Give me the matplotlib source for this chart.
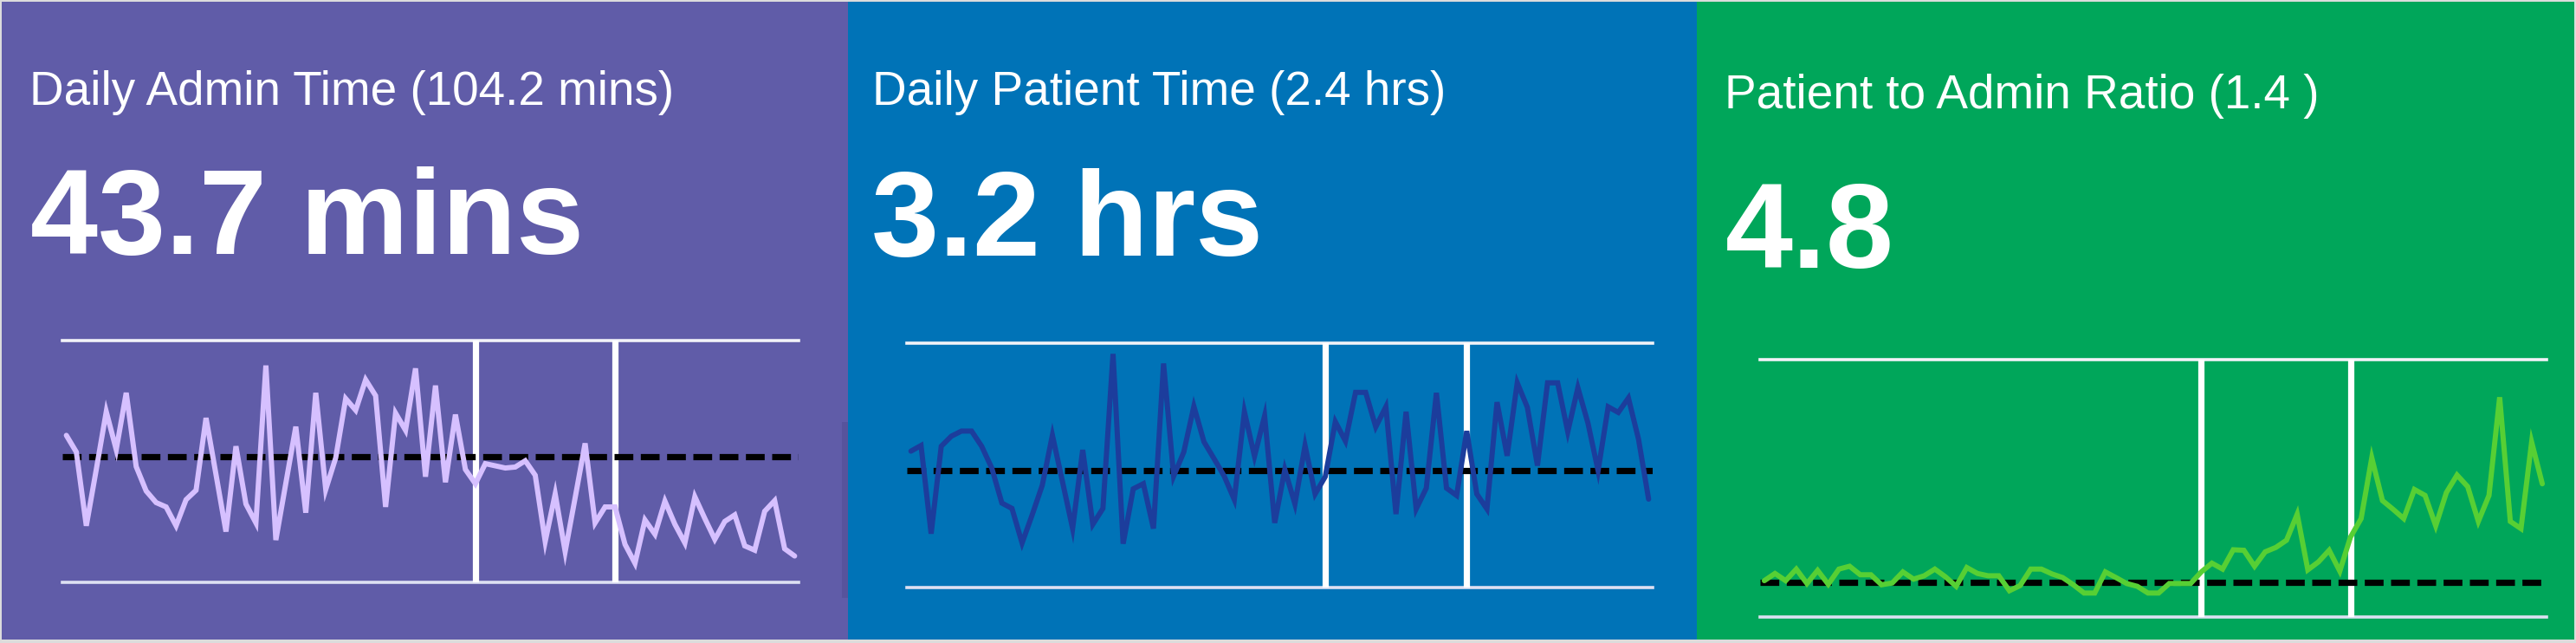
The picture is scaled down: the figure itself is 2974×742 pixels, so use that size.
"""Three KPI tiles with sparklines: admin time, patient time, patient/admin ratio."""

import matplotlib
matplotlib.use("Agg")
import matplotlib.pyplot as plt
from matplotlib.patches import Rectangle

# --- data ------------------------------------------------------------------
titles = [
    "Daily Admin Time (104.2 mins)",
    "Daily Patient Time (2.4 hrs)",
    "Patient to Admin Ratio (1.4 )",
]
headlines = ["43.7 mins", "3.2 hrs", "4.8"]

# daily values, scaled 0-100 inside each sparkline box
admin_series = [
    60.9, 54.0, 23.5, 46.8, 70.7, 55.0, 78.5, 48.0, 37.9, 33.1,
    31.3, 23.5, 34.3, 38.2, 68.1, 44.7, 21.1, 56.4, 32.5, 24.7,
    89.8, 17.6, 41.1, 64.5, 28.9, 78.5, 38.5, 51.6, 76.1, 71.3,
    83.9, 77.3, 31.3, 70.1, 63.0, 88.6, 43.8, 81.5, 41.5, 69.5,
    46.8, 40.9, 49.2, 48.3, 47.4, 47.8, 50.4, 44.4, 17.0, 36.7,
    12.8, 35.1, 57.6, 24.7, 31.3, 31.3, 15.8, 8.0, 25.9, 20.0,
    33.7, 24.1, 16.4, 35.5, 26.5, 17.9, 25.3, 28.0, 15.2, 13.4,
    29.5, 33.9, 14.0, 11.0,
]
patient_series = [
    55.8, 58.1, 22.1, 57.8, 61.9, 64.0, 64.0, 57.8, 48.9, 34.6,
    32.4, 18.3, 29.8, 41.9, 62.3, 43.3, 24.2, 56.3, 25.9, 32.4,
    95.5, 18.0, 40.4, 42.5, 24.2, 91.6, 45.6, 55.4, 74.1, 59.6,
    52.7, 45.6, 36.0, 71.9, 53.7, 70.2, 26.5, 48.3, 34.2, 58.1,
    38.3, 45.4, 67.8, 59.9, 79.8, 79.8, 65.7, 73.9, 30.1, 71.9,
    32.2, 40.7, 79.6, 40.7, 37.7, 64.0, 38.3, 32.2, 75.8, 53.9,
    83.7, 73.7, 49.9, 83.7, 83.7, 63.7, 81.7, 67.2, 47.8, 73.9,
    71.6, 77.5, 60.7, 36.2,
]
ratio_series = [
    14.2, 17.0, 14.2, 18.7, 13.1, 18.2, 12.8, 18.7, 19.8, 16.5,
    16.5, 12.6, 13.3, 17.6, 14.8, 16.1, 18.7, 15.7, 12.0, 19.3,
    17.0, 16.1, 16.1, 10.3, 12.3, 18.7, 18.7, 16.8, 15.4, 12.6,
    9.4, 9.4, 17.6, 15.4, 13.1, 12.0, 9.4, 9.4, 13.1, 13.1,
    13.1, 17.6, 21.0, 18.7, 26.2, 26.0, 19.8, 25.4, 27.1, 29.9,
    40.0, 18.4, 21.5, 26.0, 17.9, 31.1, 38.3, 61.9, 45.3, 41.9,
    38.3, 49.6, 47.3, 35.5, 48.4, 55.2, 50.7, 37.2, 47.3, 85.4,
    37.2, 34.4, 68.0, 51.8,
]
series = [admin_series, patient_series, ratio_series]
reference_levels = [51.9, 48.0, 13.7]   # dashed baseline per tile
period_breaks = [41, 55]                 # day index of the white dividers

# --- layout (pixels of the 2974 x 742 canvas) ------------------------------
W, H = 2974, 742
DPI = 100

tiles = [
    dict(x0=2, x1=979, bg="#605ca8", line="#d6c0ff",
         tx=34, title_y=121, big_x=35, big_y=293,
         box=(72, 393.3, 922, 672.3)),
    dict(x0=979, x1=1959, bg="#0073b7", line="#1c3d9c",
         tx=1007, title_y=121, big_x=1006, big_y=295,
         box=(1047, 395.7, 1908, 678.3)),
    dict(x0=1959, x1=2972, bg="#00a65a", line="#57cf34",
         tx=1991, title_y=125, big_x=1992, big_y=309,
         box=(2032, 415, 2940, 712.3)),
]

FONT = "Liberation Sans"


def fx(x):
    return x / W


def fy(y):
    return 1 - y / H


fig = plt.figure(figsize=(W / DPI, H / DPI), dpi=DPI, facecolor="#dcdcdc")

for i, t in enumerate(tiles):
    # tile background, kept below the sparkline axes
    fig.patches.append(Rectangle((fx(t["x0"]), fy(738)), fx(t["x1"] - t["x0"]),
                                 (738 - 2) / H, transform=fig.transFigure,
                                 facecolor=t["bg"], edgecolor="none", zorder=-2))

    fig.text(fx(t["tx"]), fy(t["title_y"]), titles[i], family=FONT,
             fontsize=39.5, color="white", ha="left", va="baseline")
    fig.text(fx(t["big_x"]), fy(t["big_y"]), headlines[i], family=FONT,
             fontsize=101, fontweight="bold", color="white",
             ha="left", va="baseline")

    bx0, by0, bx1, by1 = t["box"]
    ax = fig.add_axes([fx(bx0), fy(by1), (bx1 - bx0) / W, (by1 - by0) / H])
    ax.patch.set_alpha(0)
    for s in ax.spines.values():
        s.set_visible(False)
    ax.set_xticks([])
    ax.set_yticks([])
    ax.set_xlim(-0.4, len(series[i]) - 1 + 0.4)
    ax.set_ylim(0, 100)

    # frame lines top and bottom
    ax.axhline(100, color="#f2f2f8", lw=2.6, clip_on=False, zorder=1)
    ax.axhline(0, color="#dde0f2", lw=2.6, clip_on=False, zorder=1)

    for b in period_breaks:
        ax.axvline(b, color="white", lw=5.2, zorder=2)

    ax.axhline(reference_levels[i], color="black", lw=5.2,
               dashes=(3.0, 1.2), zorder=3)

    ax.plot(range(len(series[i])), series[i], color=t["line"], lw=4.3,
            solid_joinstyle="miter", solid_capstyle="round", zorder=4)

# small scroll tab artefact at the right edge of the first tile
fig.patches.append(Rectangle((fx(972), fy(690)), fx(7), (690 - 487) / H,
                             transform=fig.transFigure, facecolor="#57539c",
                             edgecolor="none", zorder=-1))

fig.savefig("out.png", dpi=DPI, facecolor=fig.get_facecolor())
